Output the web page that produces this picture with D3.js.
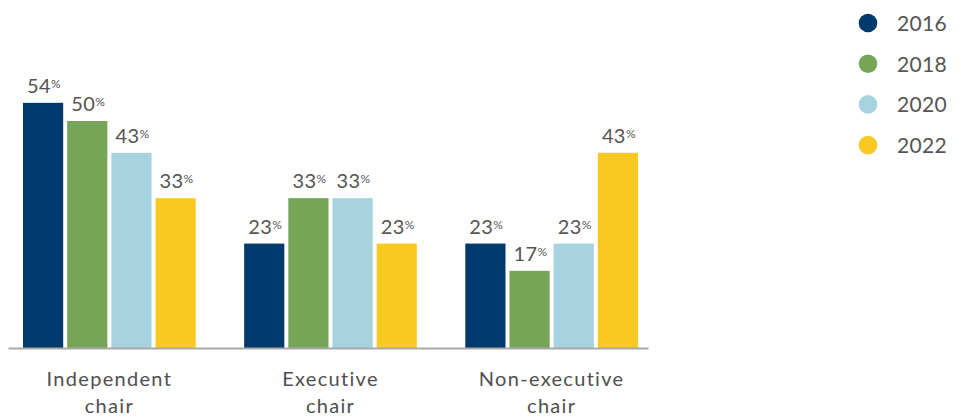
<!DOCTYPE html>
<html>
<head>
<meta charset="utf-8">
<script src="https://cdn.jsdelivr.net/npm/d3@7/dist/d3.min.js"></script>
<style>
  html, body { margin: 0; padding: 0; background: #fff; }
  svg { display: block; font-family: Lato, "Open Sans", sans-serif; }
</style>
</head>
<body>
<div id="chart"></div>
<script>
// Board chair structure by year
const categories = ["Independent chair", "Executive chair", "Non-executive chair"];
const categoryLines = [["Independent", "chair"], ["Executive", "chair"], ["Non-executive", "chair"]];
const years = ["2016", "2018", "2020", "2022"];
const values2016 = [54, 23, 23];
const values2018 = [50, 33, 17];
const values2020 = [43, 33, 23];
const values2022 = [33, 23, 43];
const colors = ["#003a6c", "#76a557", "#a7d3df", "#f8c923"];

const seriesValues = [values2016, values2018, values2020, values2022];

const width = 961, height = 417;
const baseY = 348;

const svg = d3.select("#chart").append("svg")
  .attr("width", width).attr("height", height);

const x0 = d3.scaleBand()
  .domain(categories)
  .range([8, 648])
  .paddingInner(0.219)
  .paddingOuter(0.0565)
  .align(0.6);

const x1 = d3.scaleBand()
  .domain(years)
  .range([0, x0.bandwidth()])
  .paddingInner(0.09);

const y = d3.scaleLinear()
  .domain([0, 60])
  .range([baseY, baseY - 272.4]);

const colorScale = d3.scaleOrdinal().domain(years).range(colors);

// flatten into rows
const rows = [];
categories.forEach((c, ci) => {
  years.forEach((yr, yi) => {
    rows.push({ category: c, year: yr, value: seriesValues[yi][ci] });
  });
});

// bars
svg.append("g").selectAll("rect")
  .data(rows)
  .join("rect")
  .attr("x", d => x0(d.category) + x1(d.year))
  .attr("y", d => y(d.value))
  .attr("width", x1.bandwidth())
  .attr("height", d => baseY - y(d.value))
  .attr("fill", d => colorScale(d.year));

// value labels
const labels = svg.append("g").selectAll("text")
  .data(rows)
  .join("text")
  .attr("x", d => x0(d.category) + x1(d.year) + x1.bandwidth() / 2 + 1)
  .attr("y", d => y(d.value) - 10)
  .attr("text-anchor", "middle")
  .attr("fill", "#555555")
  .style("letter-spacing", "0.4px")
  .style("font-size", "20px");
labels.append("tspan").text(d => d.value);
labels.append("tspan")
  .attr("dy", -5)
  .style("font-size", "12px")
  .text("%");

// category axis
const axis = svg.append("g")
  .attr("transform", `translate(0,${baseY})`)
  .call(d3.axisBottom(x0).tickSize(0).tickSizeOuter(0).tickPadding(0));
axis.select(".domain").attr("stroke", "#a9a9a9").attr("stroke-width", 2);
axis.selectAll(".tick text").each(function (d, i) {
  const t = d3.select(this);
  t.text(null)
    .attr("y", 0)
    .attr("dy", null)
    .attr("fill", "#4f4f4f")
    .style("font-size", "20px")
    .style("letter-spacing", "1.3px")
    .style("font-family", "Lato, 'Open Sans', sans-serif");
  categoryLines[i].forEach((line, li) => {
    t.append("tspan").attr("x", 0).attr("y", 38 + li * 27).text(line);
  });
});

// legend
const legend = svg.append("g").selectAll("g")
  .data(years)
  .join("g")
  .attr("transform", (d, i) => `translate(868,${23 + i * 40.7})`);
legend.append("circle")
  .attr("r", 9.3)
  .attr("fill", d => colorScale(d));
legend.append("text")
  .attr("x", 29)
  .attr("y", 8)
  .attr("fill", "#555555")
  .style("font-size", "21px")
  .style("letter-spacing", "0.3px")
  .text(d => d);
</script>
</body>
</html>
